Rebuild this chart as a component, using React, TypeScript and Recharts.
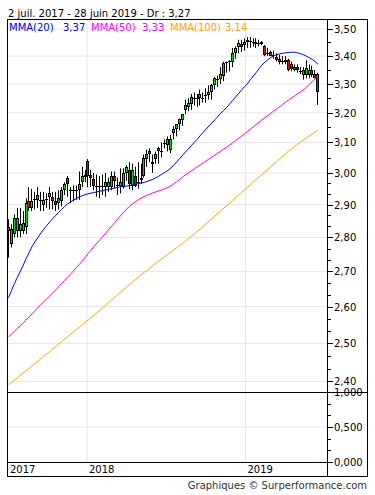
import React from 'react';
import { ComposedChart, Bar, Line, XAxis, YAxis, CartesianGrid } from 'recharts';

// weekly candles, 2 juil. 2017 -> 28 juin 2019
const opens = [
  2.83, 2.78, 2.81, 2.82, 2.82, 2.82, 2.83, 2.91, 2.89, 2.913,
  2.915, 2.91, 2.9, 2.913, 2.925, 2.925, 2.91, 2.905, 2.91, 2.945,
  2.985, 2.945, 2.944, 2.944, 2.945, 2.97, 2.988, 3.04, 2.995, 2.98,
  2.955, 2.954, 2.954, 2.955, 2.955, 2.955, 2.99, 2.958, 2.96, 2.955,
  3.0, 3.01, 2.96, 2.99, 2.968, 2.985, 2.99, 3.045, 3.063, 3.035,
  3.045, 3.08, 3.068, 3.093, 3.09, 3.075, 3.13, 3.145, 3.16, 3.175,
  3.21, 3.22, 3.23, 3.248, 3.248, 3.25, 3.248, 3.258, 3.262, 3.27,
  3.296, 3.314, 3.316, 3.33, 3.376, 3.378, 3.38, 3.41, 3.435, 3.445,
  3.44, 3.452, 3.45, 3.448, 3.452, 3.446, 3.452, 3.437, 3.408, 3.415,
  3.4, 3.397, 3.39, 3.378, 3.387, 3.387, 3.372, 3.35, 3.36, 3.343,
  3.333, 3.332, 3.333, 3.35, 3.335, 3.335,
];
const highs = [
  2.855, 2.84, 2.87, 2.89, 2.89, 2.88, 2.92, 2.955, 2.95, 2.94,
  2.955, 2.94, 2.94, 2.935, 2.955, 2.94, 2.94, 2.945, 2.955, 2.97,
  2.99, 2.955, 2.96, 2.96, 3.005, 3.02, 3.01, 3.045, 3.01, 3.0,
  2.995, 2.99, 2.995, 3.0, 2.985, 3.005, 3.005, 2.985, 3.015, 3.015,
  3.025, 3.035, 3.03, 3.02, 3.035, 3.03, 3.06, 3.076, 3.08, 3.06,
  3.07, 3.085, 3.1, 3.11, 3.12, 3.125, 3.155, 3.16, 3.18, 3.195,
  3.245, 3.25, 3.265, 3.27, 3.265, 3.28, 3.27, 3.285, 3.295, 3.3,
  3.325, 3.33, 3.36, 3.38, 3.38, 3.385, 3.43, 3.435, 3.46, 3.46,
  3.465, 3.47, 3.47, 3.465, 3.465, 3.46, 3.455, 3.44, 3.43, 3.42,
  3.42, 3.41, 3.405, 3.4, 3.4, 3.39, 3.38, 3.37, 3.37, 3.36,
  3.36, 3.385, 3.37, 3.365, 3.35, 3.34,
];
const lows = [
  2.74, 2.77, 2.8, 2.8, 2.8, 2.81, 2.81, 2.88, 2.88, 2.885,
  2.89, 2.88, 2.88, 2.89, 2.885, 2.885, 2.88, 2.885, 2.895, 2.93,
  2.925, 2.905, 2.91, 2.915, 2.915, 2.955, 2.97, 2.955, 2.955, 2.945,
  2.925, 2.92, 2.93, 2.925, 2.94, 2.945, 2.95, 2.93, 2.935, 2.95,
  2.975, 2.948, 2.945, 2.955, 2.95, 2.965, 2.985, 3.02, 3.035, 3.0,
  3.03, 3.03, 3.05, 3.08, 3.07, 3.065, 3.11, 3.12, 3.14, 3.155,
  3.195, 3.205, 3.21, 3.225, 3.22, 3.225, 3.235, 3.235, 3.245, 3.245,
  3.28, 3.29, 3.3, 3.31, 3.34, 3.345, 3.36, 3.39, 3.41, 3.415,
  3.42, 3.43, 3.43, 3.435, 3.43, 3.435, 3.44, 3.4, 3.4, 3.4,
  3.39, 3.38, 3.37, 3.37, 3.37, 3.345, 3.345, 3.345, 3.34, 3.335,
  3.315, 3.32, 3.32, 3.325, 3.32, 3.227,
];
const closes = [
  2.82, 2.824, 2.86, 2.86, 2.84, 2.845, 2.905, 2.89, 2.91, 2.917,
  2.93, 2.913, 2.915, 2.917, 2.935, 2.91, 2.9, 2.92, 2.945, 2.965,
  2.965, 2.947, 2.947, 2.947, 2.965, 2.99, 2.992, 2.99, 2.985, 2.96,
  2.96, 2.957, 2.957, 2.97, 2.97, 2.99, 2.975, 2.961, 2.97, 3.0,
  3.02, 2.965, 3.01, 2.96, 2.972, 2.978, 3.05, 3.06, 3.07, 3.028,
  3.06, 3.07, 3.072, 3.097, 3.11, 3.11, 3.145, 3.16, 3.18, 3.195,
  3.225, 3.235, 3.255, 3.252, 3.252, 3.265, 3.252, 3.262, 3.272, 3.296,
  3.32, 3.318, 3.335, 3.375, 3.38, 3.383, 3.41, 3.43, 3.448, 3.435,
  3.452, 3.46, 3.454, 3.452, 3.445, 3.449, 3.445, 3.403, 3.412, 3.4,
  3.405, 3.385, 3.378, 3.382, 3.378, 3.35, 3.355, 3.36, 3.35, 3.347,
  3.35, 3.357, 3.35, 3.332, 3.32, 3.27,
];

const mma20 = [
  2.625, 2.645, 2.665, 2.683, 2.7, 2.718, 2.738, 2.755, 2.773, 2.787,
  2.8, 2.813, 2.825, 2.836, 2.847, 2.857, 2.867, 2.876, 2.885, 2.894,
  2.902, 2.908, 2.914, 2.919, 2.924, 2.928, 2.931, 2.934, 2.936, 2.938,
  2.94, 2.942, 2.944, 2.946, 2.948, 2.95, 2.952, 2.954, 2.956, 2.957,
  2.958, 2.96, 2.962, 2.964, 2.966, 2.968, 2.97, 2.973, 2.976, 2.98,
  2.985, 2.99, 2.996, 3.002, 3.008, 3.015, 3.025, 3.035, 3.046, 3.057,
  3.068, 3.078, 3.089, 3.1, 3.11, 3.122, 3.133, 3.144, 3.155, 3.165,
  3.176, 3.187, 3.198, 3.208, 3.218, 3.23, 3.242, 3.254, 3.266, 3.278,
  3.29, 3.3, 3.315, 3.328, 3.34, 3.355, 3.368, 3.378, 3.387, 3.395,
  3.401, 3.405, 3.408, 3.41, 3.412, 3.413, 3.414, 3.414, 3.412, 3.409,
  3.405, 3.4, 3.394, 3.388, 3.38, 3.37,
];
const mma50 = [
  2.517, 2.525, 2.532, 2.54, 2.547, 2.555, 2.563, 2.572, 2.58, 2.589,
  2.598, 2.606, 2.614, 2.622, 2.63, 2.638, 2.647, 2.656, 2.665, 2.674,
  2.683, 2.692, 2.701, 2.711, 2.72, 2.73, 2.741, 2.752, 2.762, 2.773,
  2.783, 2.793, 2.803, 2.813, 2.824, 2.834, 2.845, 2.855, 2.866, 2.876,
  2.886, 2.894, 2.902, 2.909, 2.915, 2.921, 2.925, 2.929, 2.933, 2.937,
  2.94, 2.943, 2.946, 2.95, 2.954, 2.958, 2.965, 2.972, 2.979, 2.987,
  2.994, 3.0, 3.007, 3.013, 3.02, 3.026, 3.032, 3.039, 3.045, 3.052,
  3.058, 3.065, 3.071, 3.078, 3.084, 3.091, 3.098, 3.106, 3.113, 3.121,
  3.128, 3.136, 3.144, 3.152, 3.16, 3.168, 3.176, 3.183, 3.191, 3.198,
  3.206, 3.214, 3.221, 3.229, 3.236, 3.244, 3.251, 3.258, 3.265, 3.272,
  3.279, 3.288, 3.298, 3.308, 3.318, 3.328,
];
const mma100 = [
  2.391, 2.397, 2.403, 2.409, 2.416, 2.422, 2.428, 2.434, 2.44, 2.447,
  2.453, 2.459, 2.466, 2.472, 2.478, 2.485, 2.491, 2.498, 2.504, 2.511,
  2.517, 2.524, 2.53, 2.537, 2.543, 2.55, 2.557, 2.563, 2.57, 2.576,
  2.583, 2.59, 2.597, 2.605, 2.612, 2.619, 2.626, 2.633, 2.641, 2.648,
  2.655, 2.662, 2.669, 2.676, 2.683, 2.69, 2.697, 2.703, 2.71, 2.717,
  2.724, 2.73, 2.737, 2.743, 2.75, 2.756, 2.763, 2.769, 2.776, 2.782,
  2.789, 2.796, 2.803, 2.811, 2.818, 2.825, 2.833, 2.841, 2.849, 2.857,
  2.865, 2.873, 2.881, 2.889, 2.897, 2.905, 2.913, 2.922, 2.93, 2.938,
  2.946, 2.954, 2.962, 2.971, 2.979, 2.987, 2.995, 3.004, 3.012, 3.021,
  3.029, 3.037, 3.046, 3.054, 3.063, 3.071, 3.078, 3.086, 3.093, 3.101,
  3.108, 3.115, 3.122, 3.128, 3.135, 3.141,
];
// no volume is published for this chart: the lower panel stays empty
const volumes: (number | null)[] = opens.map(() => null);

const yearLabels = ['2017', '2018', '2019'];
const yearTicks = [-0.17, 26.63, 80.39];
const priceMajor = [2.4, 2.5, 2.6, 2.7, 2.8, 2.9, 3.0, 3.1, 3.2, 3.3, 3.4, 3.5];
const volumeMajor = [0, 0.5, 1];

const FONT = '"DejaVu Sans", Verdana, sans-serif';
const UP = '#00e000';
const DOWN = '#ff0000';
const GRID = '#e6e6e6';

const data = opens.map((o, i) => ({
  i,
  open: o,
  high: highs[i],
  low: lows[i],
  close: closes[i],
  range: [lows[i], highs[i]],
  m20: mma20[i],
  m50: mma50[i],
  m100: mma100[i],
  volume: volumes[i],
}));

// minor ticks: halves above 3,00, thirds below
const priceMinor: number[] = [];
priceMajor.slice(0, -1).forEach((v) => {
  if (v >= 3) priceMinor.push(v + 0.05);
  else priceMinor.push(v + 0.1 / 3, v + 0.2 / 3);
});
const priceTicks = [...priceMajor, ...priceMinor].sort((a, b) => a - b);
const volumeTicks = [0, 1 / 6, 1 / 3, 0.5, 2 / 3, 5 / 6, 1];

const fmt = (v: number, d: number) => v.toFixed(d).replace('.', ',');

const Candle = (props: any) => {
  const { x, y, width, height, payload } = props;
  const { open, close, high, low } = payload;
  const lh = Math.log(high);
  const ll = Math.log(low);
  const py = (v: number) => y + (height * (lh - Math.log(v))) / (lh - ll || 1);
  const cx = Math.floor(x + width / 2);
  const top = Math.round(py(Math.max(open, close)));
  const bot = Math.round(py(Math.min(open, close)));
  const h = Math.max(bot - top, 1);
  return (
    <g>
      <line x1={cx + 0.5} x2={cx + 0.5} y1={y} y2={y + height} stroke="#000" />
      <rect x={cx - 1} y={top} width={3} height={h} fill="#000" />
      {h > 2 && (
        <rect x={cx} y={top + 1} width={1} height={h - 2} fill={close >= open ? UP : DOWN} />
      )}
    </g>
  );
};

const AxisTick = (props: any) => {
  const { x, y, payload, majors, digits } = props;
  const v = payload.value as number;
  const major = majors.some((m: number) => Math.abs(m - v) < 1e-6);
  const yy = Math.round(y) + 0.5;
  return (
    <g>
      <line x1={x} x2={x + (major ? 6 : 4)} y1={yy} y2={yy} stroke="#000" />
      {major && (
        <text x={x + 7} y={y + 4} fontSize={10} fontFamily={FONT} fill="#000">
          {fmt(v, digits)}
        </text>
      )}
    </g>
  );
};

const YearTick = (props: any) => {
  const { x, y, payload } = props;
  const idx = yearTicks.indexOf(payload.value);
  return (
    <text x={x + 2} y={y + 11} fontSize={10} fontFamily={FONT} fill="#000">
      {yearLabels[idx]}
    </text>
  );
};

const xDomain = [-0.17, 108.04];

export default function App() {
  const last = closes.length - 1;
  const legend = [
    { name: 'MMA(20)', value: mma20[last], color: '#0000ff', x: 9, vx: 63 },
    { name: 'MMA(50)', value: mma50[last], color: '#ff00ff', x: 91, vx: 142 },
    { name: 'MMA(100)', value: mma100[last], color: '#ffa500', x: 170, vx: 225 },
  ];
  return (
    <div style={{ position: 'relative', width: 375, height: 495, background: '#fff' }}>
      <style>{'body{margin:0}'}</style>
      <div style={{ position: 'absolute', left: 0, top: 0 }}>
        <ComposedChart width={375} height={495} data={data} margin={{ top: 19, right: 0, bottom: 103, left: 8 }}>
          <CartesianGrid stroke={GRID} horizontalValues={priceMajor} verticalValues={yearTicks.slice(1)} />
          <XAxis type="number" dataKey="i" domain={xDomain} allowDataOverflow hide />
          <YAxis
            orientation="right"
            width={48}
            type="number"
            scale="log"
            domain={[2.3729, 3.5377]}
            allowDataOverflow
            ticks={priceTicks}
            interval={0}
            axisLine={false}
            tickLine={false}
            tickSize={0}
            tickMargin={0}
            tick={(p: any) => <AxisTick {...p} majors={priceMajor} digits={2} />}
          />
          <Bar dataKey="range" barSize={3} shape={(p: any) => <Candle {...p} />} isAnimationActive={false} />
          <Line dataKey="m100" type="linear" stroke="#ffa500" strokeWidth={1} dot={false} activeDot={false} isAnimationActive={false} />
          <Line dataKey="m50" type="linear" stroke="#ff00ff" strokeWidth={1} dot={false} activeDot={false} isAnimationActive={false} />
          <Line dataKey="m20" type="linear" stroke="#0000ff" strokeWidth={1} dot={false} activeDot={false} isAnimationActive={false} />
        </ComposedChart>
      </div>
      <div style={{ position: 'absolute', left: 0, top: 0 }}>
        <ComposedChart width={375} height={495} data={data} margin={{ top: 392, right: 0, bottom: 18, left: 8 }}>
          <CartesianGrid stroke={GRID} horizontalValues={[0.5]} verticalValues={yearTicks.slice(1)} />
          <XAxis
            type="number"
            dataKey="i"
            domain={xDomain}
            allowDataOverflow
            height={15}
            ticks={yearTicks}
            interval={0}
            axisLine={false}
            tickLine={false}
            tickSize={0}
            tickMargin={0}
            tick={(p: any) => <YearTick {...p} />}
          />
          <YAxis
            orientation="right"
            width={48}
            type="number"
            domain={[0, 1]}
            allowDataOverflow
            ticks={volumeTicks}
            interval={0}
            axisLine={false}
            tickLine={false}
            tickSize={0}
            tickMargin={0}
            tick={(p: any) => <AxisTick {...p} majors={volumeMajor} digits={3} />}
          />
          <Bar dataKey="volume" fill="#888" barSize={2} isAnimationActive={false} />
        </ComposedChart>
      </div>
      <svg width={375} height={495} style={{ position: 'absolute', left: 0, top: 0, pointerEvents: 'none' }}>
        <rect x={7.5} y={19.5} width={360} height={457} fill="none" stroke="#000" />
        <line x1={327.5} x2={327.5} y1={19.5} y2={476.5} stroke="#000" />
        <line x1={7.5} x2={367.5} y1={392.5} y2={392.5} stroke="#000" />
        <line x1={7.5} x2={327.5} y1={462.5} y2={462.5} stroke="#000" />
        <text x={8} y={17} fontSize={10} fontFamily={FONT} fill="#000">
          {`2 juil. 2017 - 28 juin 2019 - Dr : ${fmt(closes[last], 2)}`}
        </text>
        {legend.map((l) => (
          <g key={l.name} fontSize={10} fontFamily={FONT} fill={l.color}>
            <text x={l.x} y={31}>{l.name}</text>
            <text x={l.vx} y={31}>{fmt(l.value, 2)}</text>
          </g>
        ))}
        <text x={367} y={489} textAnchor="end" fontSize={10} fontFamily={FONT} fill="#333">
          Graphiques © Surperformance.com
        </text>
      </svg>
    </div>
  );
}
